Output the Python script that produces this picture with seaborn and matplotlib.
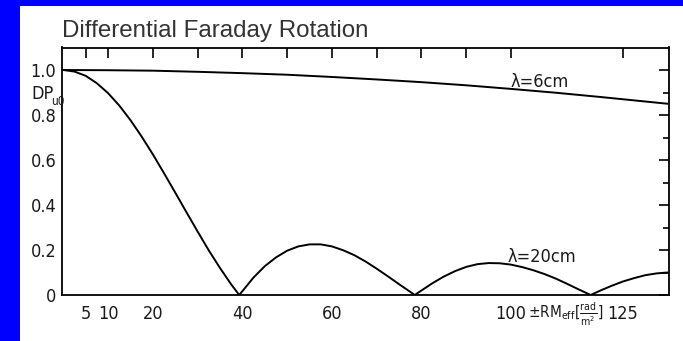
import matplotlib
matplotlib.use("Agg")
import matplotlib.pyplot as plt
import pandas as pd
import seaborn as sns
from matplotlib.patches import Rectangle
from matplotlib.ticker import FixedLocator

# Degree of polarisation vs. effective rotation measure
rm_6cm = [0, 10, 20, 30, 40, 50, 60, 70, 80, 90, 100, 110, 120, 130, 135]
dp_6cm = [1.0, 0.999, 0.997, 0.992, 0.986, 0.979, 0.969, 0.958, 0.946,
          0.932, 0.916, 0.899, 0.880, 0.860, 0.850]

rm_20cm = [0, 2.5, 5, 7.5, 10, 12.5, 15, 17.5, 20, 22.5, 25, 27.5, 30, 32.5,
           35, 37.5, 39.3, 42.5, 45, 47.5, 50, 52.5, 55, 57.5, 60, 62.5, 65,
           67.5, 70, 72.5, 75, 77.5, 78.5, 80, 82.5, 85, 87.5, 90, 92.5, 95,
           97.5, 100, 102.5, 105, 107.5, 110, 112.5, 115, 117.8, 120, 122.5,
           125, 127.5, 130, 132.5, 135]
dp_20cm = [1.0, 0.993, 0.974, 0.941, 0.897, 0.842, 0.777, 0.704, 0.625,
           0.541, 0.455, 0.368, 0.282, 0.198, 0.120, 0.047, 0.0, 0.078,
           0.128, 0.167, 0.197, 0.216, 0.225, 0.225, 0.216, 0.199, 0.177,
           0.149, 0.117, 0.083, 0.048, 0.014, 0.0, 0.020, 0.053, 0.082,
           0.106, 0.125, 0.137, 0.142, 0.141, 0.135, 0.124, 0.110, 0.093,
           0.073, 0.050, 0.026, 0.0, 0.020, 0.041, 0.060, 0.075, 0.088,
           0.096, 0.100]

x_ticks = [5, 10, 20, 30, 40, 50, 60, 70, 80, 90, 100, 125]
x_tick_labels = ["5", "10", "20", "", "40", "", "60", "", "80", "", "100", "125"]
y_ticks = [0, 0.2, 0.4, 0.6, 0.8, 1.0]
y_tick_labels = ["0", "0.2", "0.4", "0.6", "0.8", "1.0"]

curve_names = ["λ=6cm", "λ=20cm"]

df = pd.concat([
    pd.DataFrame({"RM": rm_6cm, "DP": dp_6cm, "curve": curve_names[0]}),
    pd.DataFrame({"RM": rm_20cm, "DP": dp_20cm, "curve": curve_names[1]}),
])

sns.set_theme(style="white")
plt.rcParams["font.family"] = ["DejaVu Sans"]
plt.rcParams["font.stretch"] = "condensed"
plt.rcParams["mathtext.fontset"] = "custom"
plt.rcParams["mathtext.rm"] = "DejaVu Sans:stretch=condensed"
plt.rcParams["mathtext.it"] = "DejaVu Sans:stretch=condensed"
plt.rcParams["mathtext.bf"] = "DejaVu Sans:stretch=condensed"

INK = "#1a1a1a"
FS = 13

W, H = 683, 341
fig = plt.figure(figsize=(W / 100, H / 100), dpi=100)
fig.patch.set_facecolor("white")


def px(x, y):
    return x / W, 1 - y / H


# blue frame strips
fig.patches.append(Rectangle((0, 0), 20 / W, 1, transform=fig.transFigure,
                             facecolor="#0000FF", edgecolor="none", zorder=0))
fig.patches.append(Rectangle((0, 1 - 6 / H), 1, 6 / H, transform=fig.transFigure,
                             facecolor="#0000FF", edgecolor="none", zorder=0))

ax = fig.add_axes([62 / W, 1 - 295 / H, (669 - 62) / W, (295 - 47.5) / H])
ax.set_facecolor("white")

sns.lineplot(data=df, x="RM", y="DP", hue="curve", palette=["black", "black"],
             legend=False, linewidth=1.4, ax=ax, sort=True, estimator=None)

ax.set_xlim(-0.3, 135.3)
ax.set_ylim(0, 1.10)
ax.set_xlabel("")
ax.set_ylabel("")

ax.xaxis.set_major_locator(FixedLocator(x_ticks))
ax.set_xticklabels(x_tick_labels)
ax.yaxis.set_major_locator(FixedLocator(y_ticks))
ax.set_yticklabels(y_tick_labels)
ax.yaxis.set_minor_locator(FixedLocator([0.1, 0.3, 0.5, 0.7, 0.9]))

for s in ax.spines.values():
    s.set_visible(True)
    s.set_color("black")
    s.set_linewidth(1.3)

ax.tick_params(axis="both", which="both", direction="in", top=True, right=True,
               color="black", width=1.2, labelcolor=INK)
ax.tick_params(axis="x", which="major", length=7.5, pad=7, labelsize=FS)
ax.tick_params(axis="y", which="major", length=7.5, pad=4, labelsize=FS)
ax.tick_params(axis="y", which="minor", length=4.5)

# title
fig.text(*px(62, 37), "Differential Faraday Rotation", family="Liberation Sans",
         stretch="normal", fontsize=17.4, color="#333333", ha="left", va="baseline")

# y-axis quantity
fig.text(*px(31, 99), "DP", fontsize=FS, color=INK, ha="left", va="baseline")
fig.text(*px(51.5, 105), "u0", fontsize=8.5, color=INK, ha="left", va="baseline")

# x-axis quantity
fig.text(*px(528, 318),
         r"$\pm\mathrm{RM}_{\mathrm{eff}}[\frac{\mathrm{rad}}{\mathrm{m}^2}]$",
         fontsize=11, color=INK, ha="left", va="baseline")

# curve labels
ax.text(99.8, 0.945, curve_names[0], fontsize=FS, color=INK,
        ha="left", va="center")
ax.text(99.3, 0.17, curve_names[1], fontsize=FS, color=INK,
        ha="left", va="center")

fig.savefig("out.png", dpi=100, facecolor="white")
